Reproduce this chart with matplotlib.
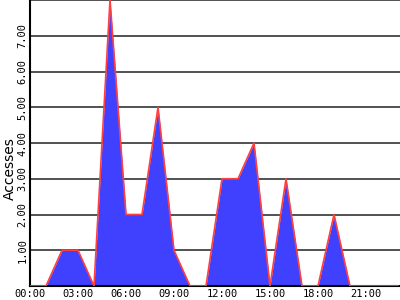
import matplotlib
matplotlib.use("Agg")
import matplotlib.pyplot as plt
from matplotlib.ticker import FuncFormatter

# Truy cập theo giờ trong ngày
gio = list(range(24))
luot_truy_cap = [0, 0, 1, 1, 0, 8, 2, 2, 5, 1, 0, 0,
                 3, 3, 4, 0, 3, 0, 0, 2, 0, 0, 0, 0]
nhan_gio = ["00:00", "03:00", "06:00", "09:00", "12:00", "15:00", "18:00", "21:00"]
vi_tri_nhan = [0, 3, 6, 9, 12, 15, 18, 21]

fig = plt.figure(figsize=(4, 3), dpi=100)
ax = fig.add_axes([30 / 400, 14 / 300, 370 / 400, 286 / 300])

ax.fill_between(gio, luot_truy_cap, color="#4040ff", linewidth=0, zorder=2)
ax.plot(gio, luot_truy_cap, color="#ff4040", linewidth=1.2, zorder=3)

ax.set_xlim(0, 23.125)
ax.set_ylim(0, 8)

ax.set_yticks(range(1, 9))
ax.yaxis.set_major_formatter(FuncFormatter(lambda v, p: "" if v >= 8 else f"{v:.2f}"))
ax.grid(axis="y", color="#333333", linewidth=1.2, zorder=1)
ax.set_axisbelow(True)

ax.set_xticks(vi_tri_nhan)
ax.set_xticklabels(nhan_gio)

for lbl in ax.get_yticklabels():
    lbl.set_rotation(90)
    lbl.set_va("center")
ax.tick_params(axis="both", length=0, labelsize=7.5, pad=2)
for lbl in ax.get_xticklabels() + ax.get_yticklabels():
    lbl.set_fontfamily("DejaVu Sans Mono")

ax.set_ylabel("Accesses", fontsize=10)
ax.yaxis.set_label_coords(-0.036, 0.41)

ax.spines["top"].set_visible(False)
ax.spines["right"].set_visible(False)
ax.spines["left"].set_linewidth(1.5)
ax.spines["bottom"].set_linewidth(1.5)

fig.savefig("out.png", dpi=100)
